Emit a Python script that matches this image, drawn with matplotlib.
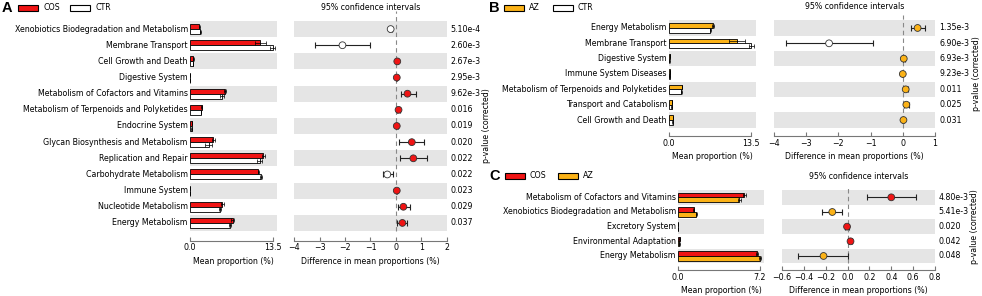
import numpy as np
import matplotlib
matplotlib.use("Agg")
import matplotlib.pyplot as plt
from matplotlib.patches import Rectangle

# %% data
RED = "#f01414"
ORANGE = "#fbb217"
WHITE = "#ffffff"
BAND = "#e5e5e5"

# panel A: COS vs CTR
a_labels = ["Xenobiotics Biodegradation and Metabolism", "Membrane Transport", "Cell Growth and Death",
            "Digestive System", "Metabolism of Cofactors and Vitamins",
            "Metabolism of Terpenoids and Polyketides", "Endocrine System",
            "Glycan Biosynthesis and Metabolism", "Replication and Repair",
            "Carbohydrate Metabolism", "Immune System", "Nucleotide Metabolism", "Energy Metabolism"]
a_g1 = [1.5, 11.4, 0.55, 0.05, 5.7, 1.9, 0.3, 3.8, 11.9, 11.1, 0.05, 5.25, 6.9]
a_g1_sd = [0.05, 0.9, 0.05, 0.01, 0.2, 0.05, 0.05, 0.3, 0.3, 0.1, 0.01, 0.2, 0.2]
a_g2 = [1.7, 13.4, 0.5, 0.04, 5.2, 1.8, 0.28, 3.0, 11.3, 11.5, 0.04, 4.9, 6.5]
a_g2_sd = [0.05, 0.4, 0.05, 0.01, 0.3, 0.05, 0.05, 0.6, 0.4, 0.1, 0.01, 0.2, 0.2]
a_diff = [-0.21, -2.1, 0.05, 0.03, 0.45, 0.1, 0.03, 0.62, 0.68, -0.34, 0.03, 0.29, 0.25]
a_lo = [-0.28, -3.16, 0.02, 0.01, 0.2, 0.05, 0.0, 0.13, 0.16, -0.5, 0.01, 0.07, 0.03]
a_hi = [-0.14, -1.03, 0.08, 0.05, 0.78, 0.15, 0.06, 1.08, 1.2, -0.1, 0.05, 0.55, 0.45]
a_p = ["5.10e-4", "2.60e-3", "2.67e-3", "2.95e-3", "9.62e-3", "0.016", "0.019",
       "0.020", "0.022", "0.022", "0.023", "0.029", "0.037"]

# panel B: AZ vs CTR
b_labels = ["Energy Metabolism", "Membrane Transport", "Digestive System", "Immune System Diseases",
            "Metabolism of Terpenoids and Polyketides", "Transport and Catabolism", "Cell Growth and Death"]
b_g1 = [7.2, 11.2, 0.1, 0.1, 2.1, 0.5, 0.65]
b_g1_sd = [0.15, 1.3, 0.01, 0.01, 0.05, 0.05, 0.05]
b_g2 = [6.8, 13.5, 0.08, 0.09, 2.0, 0.45, 0.6]
b_g2_sd = [0.1, 0.4, 0.01, 0.01, 0.05, 0.05, 0.05]
b_diff = [0.46, -2.29, 0.03, 0.0, 0.09, 0.11, 0.02]
b_lo = [0.25, -3.63, 0.0, -0.02, 0.03, 0.03, -0.01]
b_hi = [0.68, -0.94, 0.06, 0.02, 0.15, 0.19, 0.05]
b_p = ["1.35e-3", "6.90e-3", "6.93e-3", "9.23e-3", "0.011", "0.025", "0.031"]

# panel C: COS vs AZ
c_labels = ["Metabolism of Cofactors and Vitamins", "Xenobiotics Biodegradation and Metabolism",
            "Excretory System", "Environmental Adaptation", "Energy Metabolism"]
c_g1 = [5.85, 1.38, 0.02, 0.15, 6.95]
c_g1_sd = [0.1, 0.05, 0.005, 0.02, 0.1]
c_g2 = [5.4, 1.6, 0.02, 0.12, 7.2]
c_g2_sd = [0.15, 0.05, 0.005, 0.02, 0.1]
c_diff = [0.40, -0.14, -0.005, 0.027, -0.22]
c_lo = [0.18, -0.23, -0.02, 0.01, -0.45]
c_hi = [0.63, -0.055, 0.01, 0.045, 0.0]
c_p = ["4.80e-3", "5.41e-3", "0.020", "0.042", "0.048"]

# %% layout helpers
W, H = 982, 296
FS = 5.7


def box(x0, x1, y0, y1):
    # pixel box -> figure fraction rect
    return [x0 / W, 1 - y1 / H, (x1 - x0) / W, (y1 - y0) / H]


def style_axis(ax, n, offset, ticks, bounds):
    ax.set_ylim(n - 0.5, -0.5)
    for s in ["top", "right", "left"]:
        ax.spines[s].set_visible(False)
    ax.spines["bottom"].set_position(("outward", offset))
    ax.spines["bottom"].set_color("#777777")
    ax.spines["bottom"].set_linewidth(0.8)
    ax.spines["bottom"].set_bounds(*bounds)
    ax.set_yticks([])
    ax.set_xticks(ticks)
    ax.tick_params(axis="x", direction="in", length=3, width=0.8, color="#777777",
                   labelsize=FS, pad=2)
    for i in range(0, n, 2):
        ax.axhspan(i - 0.5, i + 0.5, color=BAND, lw=0, zorder=0)


def panel(fig, letter, labels, g1, g1sd, g2, g2sd, diff, lo, hi, pvals,
          names, colors, bar_x, ci_x, y0, y1, bmax, bticks, bfmt, ci_lim, ci_ticks, ci_fmt, offset):
    n = len(labels)
    pos = np.arange(n)
    h = 0.31

    # mean proportion bars
    ax = fig.add_axes(box(bar_x[0], bar_x[1], y0, y1))
    ax.set_xlim(0, bmax)
    style_axis(ax, n, offset, bticks, (bticks[0], bticks[-1]))
    ax.set_xticklabels([bfmt % t for t in bticks])
    ax.barh(pos - h / 2, g1, height=h, color=colors[0], edgecolor="black", lw=0.6, zorder=2)
    ax.barh(pos + h / 2, g2, height=h, color=colors[1], edgecolor="black", lw=0.6, zorder=2)
    ax.errorbar(g1, pos - h / 2, xerr=g1sd, fmt="none", ecolor="black", elinewidth=0.5,
                capsize=1.2, capthick=0.5, zorder=3)
    ax.errorbar(g2, pos + h / 2, xerr=g2sd, fmt="none", ecolor="black", elinewidth=0.5,
                capsize=1.2, capthick=0.5, zorder=3)
    ax.set_xlabel("Mean proportion (%)", fontsize=FS, labelpad=3)
    for i, lab in enumerate(labels):
        ax.text(-0.025, i, lab, transform=ax.get_yaxis_transform(), ha="right", va="center",
                fontsize=FS)

    # confidence intervals
    cx = fig.add_axes(box(ci_x[0], ci_x[1], y0, y1))
    cx.set_xlim(*ci_lim)
    style_axis(cx, n, offset, ci_ticks, ci_lim)
    cx.set_xticklabels([ci_fmt(t) for t in ci_ticks])
    cx.axvline(0, ymin=0, ymax=1.05, color="#888888", ls=(0, (4, 3)), lw=0.8, clip_on=False, zorder=1)
    d = np.array(diff)
    cx.errorbar(d, pos, xerr=[d - np.array(lo), np.array(hi) - d], fmt="none", ecolor="#222222",
                elinewidth=0.8, capsize=2.2, capthick=0.8, zorder=3)
    pc = [colors[0] if (a >= b) else colors[1] for a, b in zip(g1, g2)]
    cx.scatter(d, pos, s=24, c=pc, edgecolors="#333333", linewidths=0.6, zorder=4)
    cx.set_title("95% confidence intervals", fontsize=FS, pad=8)
    cx.set_xlabel("Difference in mean proportions (%)", fontsize=FS, labelpad=3)
    for i, p in enumerate(pvals):
        cx.text(1.025, i, p, transform=cx.get_yaxis_transform(), ha="left", va="center", fontsize=FS)
    cx.text(1.26, 0.5, "p-value (corrected)", transform=cx.transAxes, rotation=90,
            ha="center", va="center", fontsize=FS)
    return ax


def legend(fig, letter, lx, ly, names, colors, xs):
    fig.text(lx / W, 1 - ly / H, letter, fontsize=10.5, fontweight="bold",
             family="Liberation Sans", ha="left", va="center")
    for x, nm, col in zip(xs, names, colors):
        fig.add_artist(Rectangle((x / W, 1 - (ly + 3) / H), 20 / W, 6 / H, transform=fig.transFigure,
                                 facecolor=col, edgecolor="black", lw=0.8))
        fig.text((x + 25) / W, 1 - ly / H, nm, fontsize=FS, ha="left", va="center")


fmt_int = lambda t: "%d" % t if t >= 0 else "\u2212%d" % abs(t)
fmt_one = lambda t: "%.1f" % t if t >= 0 else "\u2212%.1f" % abs(t)

# %% figure
fig = plt.figure(figsize=(W / 100, H / 100), dpi=100)

panel(fig, "A", a_labels, a_g1, a_g1_sd, a_g2, a_g2_sd, a_diff, a_lo, a_hi, a_p,
      ["COS", "CTR"], [RED, WHITE], (190, 277), (294, 447), 21, 231, 14.1, [0, 13.5], "%.1f",
      (-4, 2), [-4, -3, -2, -1, 0, 1, 2], fmt_int, 7)
legend(fig, "A", 2, 8, ["COS", "CTR"], [RED, WHITE], [18, 70])

panel(fig, "B", b_labels, b_g1, b_g1_sd, b_g2, b_g2_sd, b_diff, b_lo, b_hi, b_p,
      ["AZ", "CTR"], [ORANGE, WHITE], (669, 756), (774, 935), 20.3, 127.7, 14.26, [0, 13.5], "%.1f",
      (-4, 1), [-4, -3, -2, -1, 0, 1], fmt_int, 6)
legend(fig, "B", 489, 8, ["AZ", "CTR"], [ORANGE, WHITE], [504, 553])

panel(fig, "C", c_labels, c_g1, c_g1_sd, c_g2, c_g2_sd, c_diff, c_lo, c_hi, c_p,
      ["COS", "AZ"], [RED, ORANGE], (678, 764), (782, 935), 190, 263.3, 7.58, [0, 7.2], "%.1f",
      (-0.6, 0.8), [-0.6, -0.4, -0.2, 0.0, 0.2, 0.4, 0.6, 0.8], fmt_one, 5)
legend(fig, "C", 489, 176, ["COS", "AZ"], [RED, ORANGE], [505, 558])

fig.savefig("out.png", dpi=100)
